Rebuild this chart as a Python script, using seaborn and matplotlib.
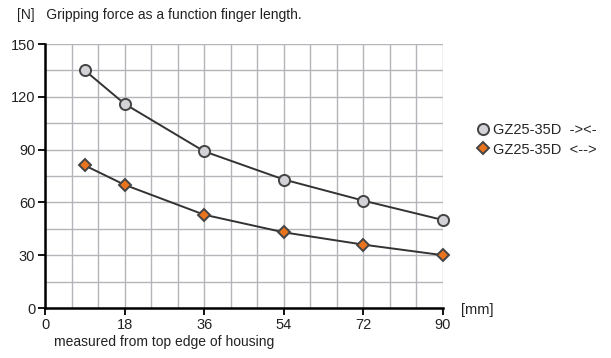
import matplotlib
matplotlib.use("Agg")
import matplotlib.pyplot as plt
import seaborn as sns
import pandas as pd

finger_length = [9, 18, 36, 54, 72, 90]
force_close = [135, 116, 89, 73, 61, 50]
force_open = [81, 70, 53, 43, 36, 30]
x_ticks = [0, 18, 36, 54, 72, 90]
y_ticks = [0, 30, 60, 90, 120, 150]

sns.set_theme(style="white")
plt.rcParams['font.family'] = ['Liberation Sans', 'DejaVu Sans']

df = pd.DataFrame({
    "x": finger_length * 2,
    "y": force_close + force_open,
    "s": ["GZ25-35D  \u2011><\u2011"] * 6 + ["GZ25-35D  <\u2011\u2011>"] * 6,
})

fig = plt.figure(figsize=(6.11, 3.58), dpi=100)
ax = fig.add_axes([45/611, 50/358, 398/611, 264/358])

sns.lineplot(data=df, x="x", y="y", hue="s", style="s",
             palette=["#333333", "#333333"], markers=["o", "D"], dashes=False,
             linewidth=1.4, ax=ax, legend=False)
# restyle markers
lines = ax.get_lines()
face = ["#d3d3d7", "#e8741e"]
sizes = [8, 6.5]
for ln, fc, ms in zip(lines, face, sizes):
    ln.set_markerfacecolor(fc)
    ln.set_markeredgecolor("#444444")
    ln.set_markeredgewidth(1.4)
    ln.set_markersize(ms)
    ln.set_clip_on(False)
    ln.set_zorder(5)

ax.set_xlim(0, 90)
ax.set_ylim(0, 150)
ax.set_xticks(list(range(0, 91, 6)), minor=True)
ax.set_yticks(list(range(0, 151, 15)), minor=True)
ax.set_xticks(x_ticks)
ax.set_yticks(y_ticks)
ax.grid(True, which="both", color="#b4b4ba", linewidth=1.0)
ax.set_axisbelow(True)
for sp in ["top", "right"]:
    ax.spines[sp].set_visible(False)
ax.spines["left"].set_color("black")
ax.spines["bottom"].set_color("black")
ax.spines["left"].set_linewidth(1.8)
ax.spines["bottom"].set_linewidth(1.8)
ax.tick_params(which="major", direction="out", length=5, width=1.3, color="black",
               labelsize=10.5, labelcolor="#222222", left=True, bottom=True, pad=2)
ax.tick_params(which="minor", length=0)
ax.set_xlabel("")
ax.set_ylabel("")

fig.text(17/611, 1 - 15/358, "[N]   Gripping force as a function finger length.",
         fontsize=10, color="#222222", va="center", ha="left")
fig.text(461/611, 1 - 310/358, "[mm]", fontsize=10.5, color="#222222", va="center", ha="left")
fig.text(54/611, 1 - 342/358, "measured from top edge of housing", fontsize=10,
         color="#222222", va="center", ha="left")

# legend
from matplotlib.lines import Line2D
handles = [
    Line2D([], [], linestyle="none", marker="o", markersize=8, markerfacecolor=face[0],
           markeredgecolor="#444444", markeredgewidth=1.4),
    Line2D([], [], linestyle="none", marker="D", markersize=6.5, markerfacecolor=face[1],
           markeredgecolor="#444444", markeredgewidth=1.4),
]
leg = fig.legend(handles, ["GZ25-35D  -><-", "GZ25-35D  <-->"], loc="center left",
                 bbox_to_anchor=(468/611, 1 - 140/358), frameon=False, fontsize=10.5,
                 handletextpad=0.1, handlelength=1.2, labelspacing=0.35, borderaxespad=0)

fig.savefig("out.png", dpi=100)
